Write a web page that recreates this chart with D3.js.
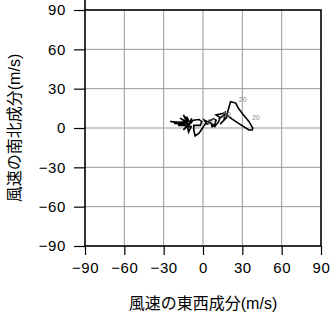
<!DOCTYPE html>
<html>
<head>
<meta charset="utf-8">
<script src="https://cdn.jsdelivr.net/npm/d3@7"></script>
<style>
  body { margin: 0; background: #fff; }
  text { font-family: "Liberation Sans", Arial, sans-serif; }
  .cjk { font-family: "Liberation Sans", "Noto Sans CJK JP", sans-serif; }
</style>
</head>
<body>
<svg></svg>
<script>
(function hodograph() {
  // wind components (m/s)
  const uWind = [-13, -25, -14, -22, -13, -17.5, -12, -15, -11, -12.5, -10, -8.6, -10, -15, -12, -11, -9, -14, -19, -13, -9, -7.5, -3, -1, -2, -7, -7, -6, -3, -1, 1, 3, 1, 3, 6, 7, 9, 10, 8, 4, 9, 12, 13, 10, 15, 17, 16, 13, 18, 19, 21, 25, 27, 30, 35, 38, 37.5, 35, 28, 22, 17, 15, 12];
  const vWind = [4, 5, 3, 3.5, 5, 7.5, 4, 10, 5, 8.6, 4, 7.4, 3, -1.5, 2, -3, 1, 2, 2, 3, 4, 6, 6.5, 5, 2, 2, -2, -6, -4, -1, 2, 5, 6, 3, 4, 1, 3, 6, 7, 5, 1, 5, 8, 10, 11, 12, 6, 3, 8, 13, 20, 19, 15, 11, 5, 0, -1.5, -1.5, 3, 7, 11, 9, 7];
  // height labels along the curve
  const labelIdx = [30, 42, 51, 54];
  const labelText = ["10", "50", "20", "20"];
  const ticks = [-90, -60, -30, 0, 30, 60, 90];

  const svg = d3.select("svg").attr("width", 331).attr("height", 318);
  const left = 85, top = 10, size = 236;

  const x = d3.scaleLinear().domain([-90, 90]).range([left, left + size]);
  const y = d3.scaleLinear().domain([-90, 90]).range([top + size, top]);

  // grid
  svg.append("g")
      .selectAll("line")
      .data(ticks.slice(1, -1))
      .join("line")
      .attr("x1", d => x(d)).attr("x2", d => x(d))
      .attr("y1", top).attr("y2", top + size)
      .attr("stroke", "#999");
  svg.append("g")
      .selectAll("line")
      .data(ticks.slice(1, -1))
      .join("line")
      .attr("y1", d => y(d)).attr("y2", d => y(d))
      .attr("x1", left).attr("x2", left + size)
      .attr("stroke", "#999");

  // axes
  const xAxis = svg.append("g")
      .attr("transform", `translate(0,${top + size})`)
      .call(d3.axisBottom(x).tickValues(ticks).tickSize(9).tickPadding(7).tickSizeOuter(0));
  const yAxis = svg.append("g")
      .attr("transform", `translate(${left},0)`)
      .call(d3.axisLeft(y).tickValues(ticks).tickSize(11).tickPadding(8).tickSizeOuter(0));
  [xAxis, yAxis].forEach(g => {
    g.select(".domain").remove();
    g.selectAll("line").attr("stroke", "#000").attr("stroke-width", 1.2);
    g.selectAll("text").style("font-size", "15px").attr("fill", "#000")
        .style("letter-spacing", "0.6px")
        .style("font-family", "'Liberation Sans', Arial, sans-serif");
  });

  // frame (left edge runs a little above the top)
  svg.append("rect")
      .attr("x", left).attr("y", top)
      .attr("width", size).attr("height", size)
      .attr("fill", "none").attr("stroke", "#000").attr("stroke-width", 1.6);
  svg.append("line")
      .attr("x1", left).attr("x2", left)
      .attr("y1", 0).attr("y2", top)
      .attr("stroke", "#000").attr("stroke-width", 1.6);

  // curve
  const pts = uWind.map((u, i) => [u, vWind[i]]);
  svg.append("path")
      .datum(pts)
      .attr("fill", "none")
      .attr("stroke", "#000")
      .attr("stroke-width", 1.6)
      .attr("d", d3.line().x(d => x(d[0])).y(d => y(d[1])));

  svg.append("g")
      .selectAll("text")
      .data(labelIdx)
      .join("text")
      .attr("x", d => x(uWind[d]) + 3)
      .attr("y", d => y(vWind[d]) - 1)
      .attr("fill", "#888")
      .style("font-size", "7px")
      .text((d, i) => labelText[i]);

  // axis titles
  svg.append("text")
      .attr("class", "cjk")
      .attr("x", left + size / 2).attr("y", 309)
      .attr("text-anchor", "middle")
      .style("font-size", "16px")
      .text("風速の東西成分(m/s)");
  svg.append("text")
      .attr("class", "cjk")
      .attr("transform", `translate(20,${top + size / 2}) rotate(-90)`)
      .attr("text-anchor", "middle")
      .style("font-size", "16px")
      .text("風速の南北成分(m/s)");
})();
</script>
</body>
</html>
